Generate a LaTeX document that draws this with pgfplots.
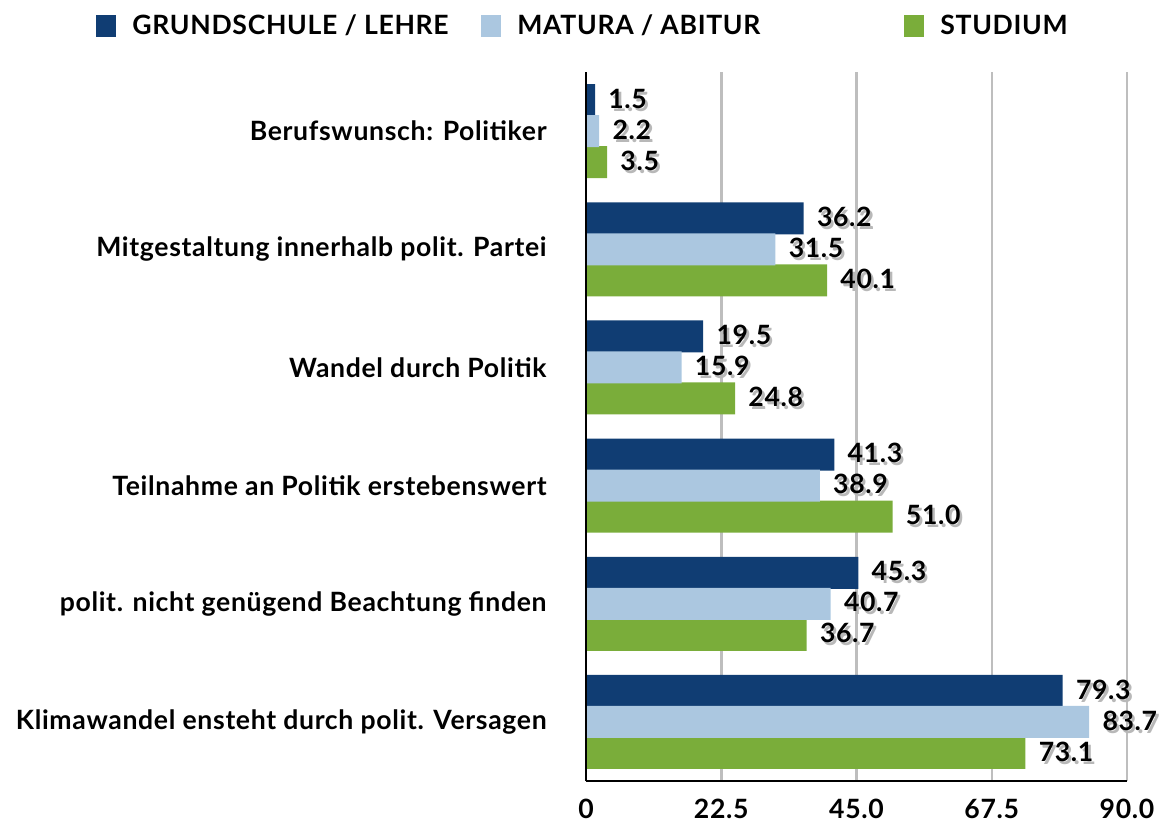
\documentclass[border=0pt]{standalone}
\usepackage{pgfplots}
\pgfplotsset{compat=1.18}
\usepackage{fontspec}
\setmainfont{Lato}[LetterSpace=2.5]
\definecolor{cDark}{HTML}{103D73}
\definecolor{cLight}{HTML}{ABC7E0}
\definecolor{cGreen}{HTML}{7AAD3A}
\definecolor{cGrid}{HTML}{BEBEBE}
\newcommand\shd[1]{\makebox[0pt][l]{\hspace{1.3pt}\raisebox{-1.5pt}{\color{black!28}#1}}#1}
\newcommand\fnt{\fontsize{13.3}{15}\selectfont\bfseries}
\begin{document}
\begin{tikzpicture}
\useasboundingbox (0,0) rectangle (585.5pt,-411pt);
\begin{axis}[
  at={(293pt,-390.5pt)}, anchor=south west,
  scale only axis, width=270.5pt, height=354.5pt,
  xbar, bar width=16pt,
  xmin=0, xmax=90, ymin=-0.5, ymax=5.5,
  axis x line=bottom, axis y line=left,
  axis line style={black, line width=1pt, -},
  xtick={0,22.5,45,67.5,90},
  xticklabels={0,22.5,45.0,67.5,90.0},
  ytick={0,1,2,3,4,5},
  yticklabels={Klimawandel ensteht durch polit. Versagen,polit. nicht genügend Beachtung finden,Teilnahme an Politik erstebenswert,Wandel durch Politik,Mitgestaltung innerhalb polit. Partei,Berufswunsch: Politiker},
  major tick length=0pt,
  xmajorgrids, grid style={cGrid, line width=1.25pt},
  tick label style={font=\fnt},
  yticklabel style={inner sep=0pt, anchor=east, xshift=-19.5pt},
  xticklabel style={inner sep=0pt, anchor=north, yshift=-9pt},
  /pgf/number format/assume math mode=true,
  nodes near coords={\shd{\pgfmathprintnumber[fixed,precision=1,fixed zerofill]{\pgfplotspointmeta}}},
  every node near coord/.append style={inner sep=0pt, anchor=west, xshift=6.5pt, font=\fnt, black},
  legend columns=3,
  legend style={draw=none, fill=none, at={(0,1)}, anchor=west, xshift=-245pt, yshift=23pt,
    inner sep=0pt, column sep=0pt, row sep=0pt,
    nodes={inner sep=0pt, anchor=west},
    font=\fnt},
  legend image code/.code={\fill[#1] (0pt,-5.5pt) rectangle (10pt,5.5pt); \path (18pt,0pt);},
]
\addplot[fill=cDark, draw=none, bar shift=15.5pt] coordinates {(79.3,0) (45.3,1) (41.3,2) (19.5,3) (36.2,4) (1.5,5)};
\addlegendentry{\makebox[174.5pt][l]{GRUNDSCHULE / LEHRE}}
\addplot[fill=cGreen, draw=none, bar shift=-15.5pt, forget plot] coordinates {(73.1,0) (36.7,1) (51.0,2) (24.8,3) (40.1,4) (3.5,5)};
\addplot[fill=cLight, draw=none, bar shift=0pt] coordinates {(83.7,0) (40.7,1) (38.9,2) (15.9,3) (31.5,4) (2.2,5)};
\addlegendentry{\makebox[193.5pt][l]{MATURA / ABITUR}}
\addlegendimage{fill=cGreen, draw=none}
\addlegendentry{STUDIUM}
\draw[black, line width=1pt] (axis cs:0,-0.5) -- (axis cs:0,5.5);
\end{axis}
\end{tikzpicture}
\end{document}
